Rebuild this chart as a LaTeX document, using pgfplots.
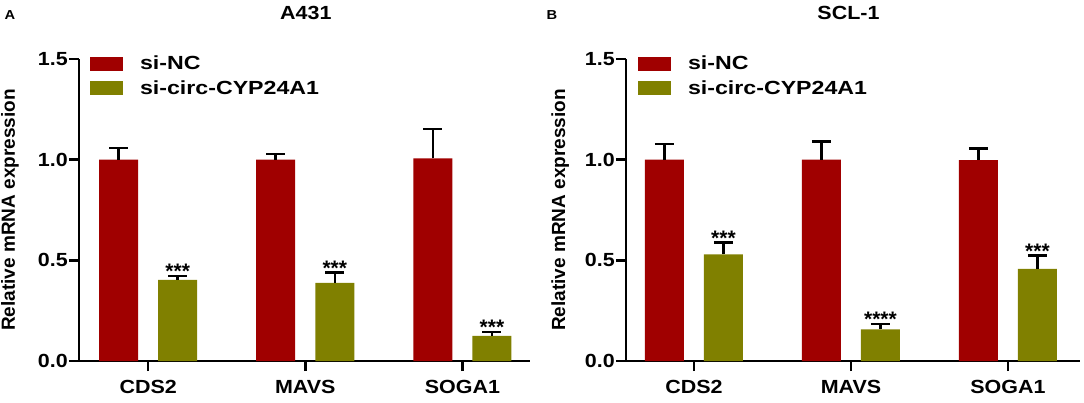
\documentclass[border=0pt]{standalone}
\usepackage{fontspec}
\setmainfont{Liberation Sans}[FakeStretch=1.13]
\newfontfamily\legfont{Liberation Sans}[FakeStretch=1.22]
\newfontfamily\plainfont{Liberation Sans}
\usepackage{pgfplots}
\usepackage{pgfplotstable}
\pgfplotsset{compat=1.18}

\definecolor{cRed}{RGB}{160,0,0}
\definecolor{cOlive}{RGB}{128,128,0}

% A431
\pgfplotstableread{
x y err
0 1.000 0.058
1 1.000 0.028
2 1.007 0.146
}\AredT
\pgfplotstableread{
x y err
0 0.403 0.020
1 0.388 0.052
2 0.125 0.020
}\AgreenT
\pgfplotstableread{
x y s
0 0.423 ***
1 0.440 ***
2 0.145 ***
}\AstarT
% SCL-1
\pgfplotstableread{
x y err
0 1.000 0.078
1 1.000 0.090
2 0.998 0.057
}\BredT
\pgfplotstableread{
x y err
0 0.530 0.058
1 0.157 0.028
2 0.458 0.065
}\BgreenT
\pgfplotstableread{
x y s
0 0.588 ***
1 0.185 ****
2 0.523 ***
}\BstarT

\pgfplotsset{
  panel/.style={
    scale only axis,
    height=302pt,
    ymin=0, ymax=1.5,
    ytick={0,0.5,1.0,1.5},
    yticklabel style={/pgf/number format/fixed,/pgf/number format/fixed zerofill,/pgf/number format/precision=1},
    /pgf/number format/assume math mode=true,
    xtick={0,1,2},
    xticklabels={CDS2,MAVS,SOGA1},
    axis x line*=bottom,
    axis y line*=left,
    axis line style={line width=2.5pt,black},
    major tick style={line width=2.5pt,black},
    major tick length=10pt,
    tick align=outside,
    font=\bfseries\fontsize{19}{22}\selectfont,
    tick label style={font=\bfseries\fontsize{19}{22}\selectfont},
    xticklabel style={yshift=-6pt},
    yticklabel style={inner sep=1pt},
    ylabel={Relative mRNA expression},
    clip=false,
    legend cell align=left,
    legend style={draw=none, fill=none, inner sep=0pt, anchor=north west,
      font=\legfont\bfseries\fontsize{19}{22}\selectfont,
      nodes={inner sep=0pt}, column sep=17pt, row sep=9pt},
    legend image code/.code={\fill[##1,draw=none] (0pt,-7pt) rectangle (33pt,7pt);},
    error bars/y dir=plus,
    error bars/y explicit,
    error bars/error bar style={line width=2.5pt,black},
    error bars/error mark options={line width=2.5pt,black,mark size=9.5pt,rotate=90},
  },
  redbar/.style={ybar, bar width=39pt, bar shift=0pt, fill=cRed, draw=none},
  greenbar/.style={ybar, bar width=39pt, bar shift=0pt, fill=cOlive, draw=none},
  stars/.style={draw=none, mark=none, forget plot, nodes near coords,
    point meta=explicit symbolic,
    nodes near coords style={anchor=base, yshift=-3pt, inner sep=0pt,
      font=\plainfont\bfseries\fontsize{21}{22}\selectfont}},
}

\begin{document}
\begin{tikzpicture}
\useasboundingbox (0,0) rectangle (1084pt,402pt);
\begin{axis}[panel,
  at={(79pt,41pt)}, anchor=south west,
  width=451pt, xmin=-0.44, xmax=2.43,
  every axis y label/.style={at={(axis description cs:-0.153,0.5)}, anchor=center, rotate=90,
    font=\plainfont\bfseries\fontsize{19}{22}\selectfont},
  title={A431},
  every axis title/.style={at={(axis description cs:0.503,1.152)}, anchor=center},
  legend style={at={(axis description cs:0.024,1.01)}},
]
\addplot[redbar] table[x expr=\thisrow{x}-0.188,y=y,y error=err] {\AredT};
\addlegendentry{si-NC}
\addplot[greenbar] table[x expr=\thisrow{x}+0.188,y=y,y error=err] {\AgreenT};
\addlegendentry{si-circ-CYP24A1}
\addplot[stars] table[x expr=\thisrow{x}+0.188,y=y,meta=s] {\AstarT};
\node[font=\bfseries\fontsize{13}{14}\selectfont] at (axis description cs:-0.153,1.146) {A};
\end{axis}
\begin{axis}[panel,
  at={(626pt,41pt)}, anchor=south west,
  width=454pt, xmin=-0.433, xmax=2.459,
  every axis y label/.style={at={(axis description cs:-0.145,0.5)}, anchor=center, rotate=90,
    font=\plainfont\bfseries\fontsize{19}{22}\selectfont},
  title={SCL-1},
  every axis title/.style={at={(axis description cs:0.49,1.152)}, anchor=center},
  legend style={at={(axis description cs:0.026,1.01)}},
]
\addplot[redbar] table[x expr=\thisrow{x}-0.188,y=y,y error=err] {\BredT};
\addlegendentry{si-NC}
\addplot[greenbar] table[x expr=\thisrow{x}+0.188,y=y,y error=err] {\BgreenT};
\addlegendentry{si-circ-CYP24A1}
\addplot[stars] table[x expr=\thisrow{x}+0.188,y=y,meta=s] {\BstarT};
\node[font=\bfseries\fontsize{13}{14}\selectfont] at (axis description cs:-0.163,1.146) {B};
\end{axis}
\end{tikzpicture}
\end{document}
